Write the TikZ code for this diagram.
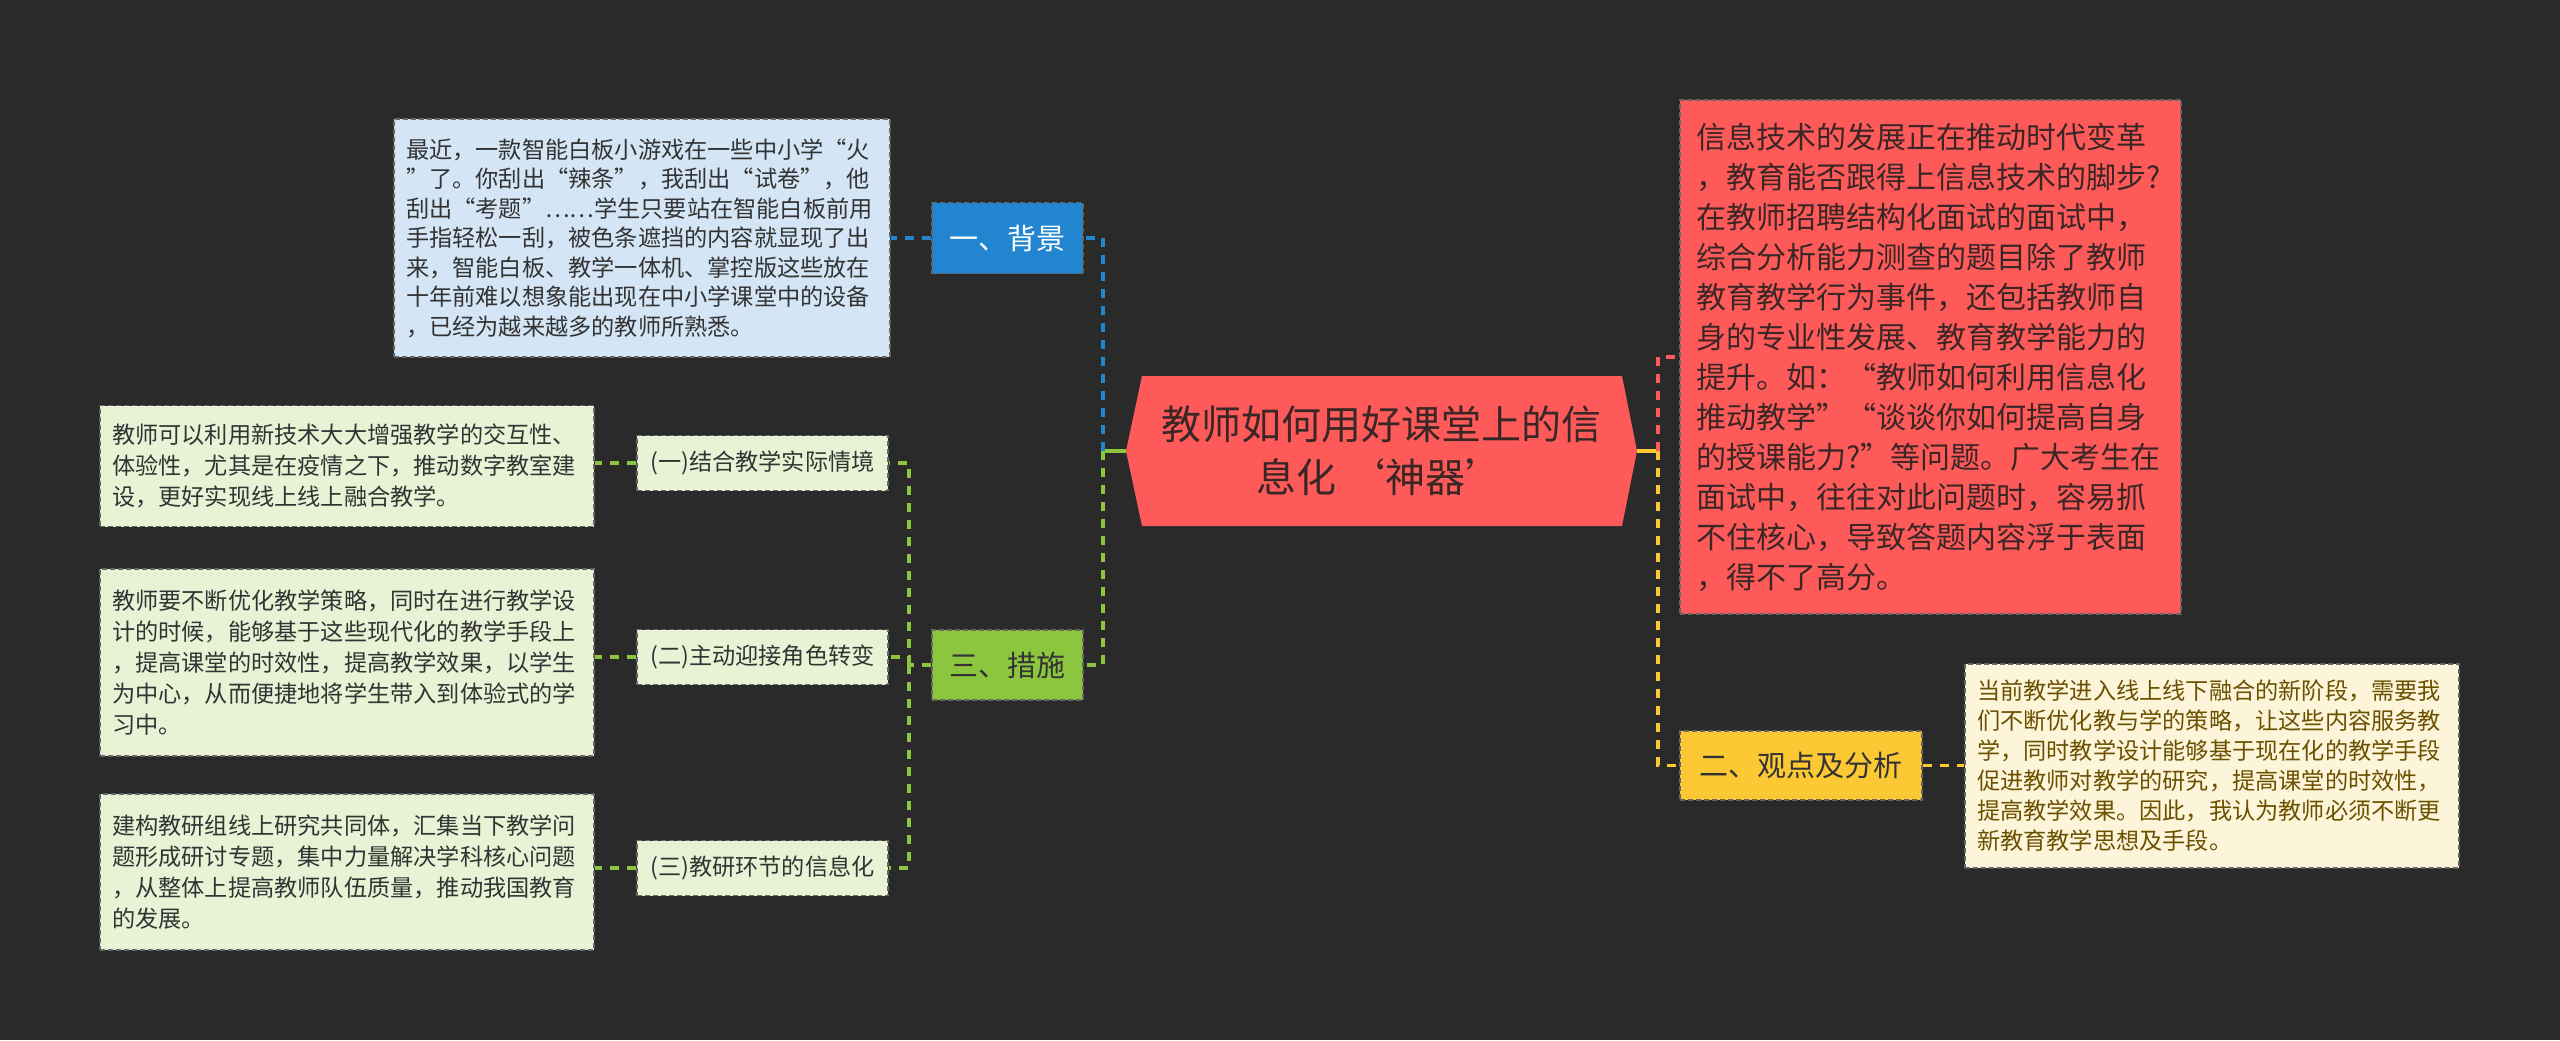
\documentclass[tikz,border=0pt]{standalone}
\usepackage{fontspec}
\setmainfont{Noto Sans CJK SC}
\newfontfamily\cjk{Noto Sans CJK SC}
\definecolor{bgcol}{HTML}{2A2A2A}
\definecolor{rootred}{HTML}{FF5A5A}
\definecolor{roottext}{HTML}{3B2626}
\definecolor{topblue}{HTML}{2185D0}
\definecolor{topgreen}{HTML}{8CC63F}
\definecolor{topyellow}{HTML}{FCC834}
\definecolor{lblue}{HTML}{D4E6F5}
\definecolor{lgreen}{HTML}{E8F3D6}
\definecolor{lyellow}{HTML}{FDF5DA}
\definecolor{darktext}{HTML}{333333}
\definecolor{browntext}{HTML}{6B5000}
\begin{document}
\begin{tikzpicture}[x=0.5pt,y=-0.5pt,
  boxline/.style={draw=black!60, line width=0.6pt, dash pattern=on 2.5pt off 1.5pt},
  leaf/.style={boxline, align=left, inner xsep=6pt, inner ysep=0pt, text=darktext,
     font=\cjk\fontsize{11.6pt}{15.5pt}\selectfont},
  topic/.style={boxline, align=center, inner sep=0pt, font=\cjk\fontsize{14.5pt}{17pt}\selectfont},
  sub/.style={boxline, fill=lgreen, align=center, inner sep=0pt, text=darktext,
     minimum width=125.5pt, minimum height=27.5pt, font=\cjk\fontsize{11.6pt}{14pt}\selectfont},
  conn/.style={line width=1.6pt, dash pattern=on 4.5pt off 4pt},
  stub/.style={line width=1.8pt}
]
\fill[bgcol] (0,0) rectangle (2560,1040);
\useasboundingbox (0,0) rectangle (2560,1040);

% central hexagon
\fill[rootred] (1126,451) -- (1142,376) -- (1622,376) -- (1637,451) -- (1622,526) -- (1142,526) -- cycle;
\coordinate (rootL) at (1126,451);
\coordinate (rootR) at (1637,451);
\node[align=center, text=roottext, font=\cjk\fontsize{20pt}{26.5pt}\selectfont] (root) at (1381,451)
  {教师如何用好课堂上的信\\息化 ‘神器’};

% topics
\node[topic, fill=topblue, text=white, minimum width=75.5pt, minimum height=35.5pt] (bg) at (1007.5,238) {一、背景};
\node[topic, fill=topgreen, text=darktext, minimum width=75.5pt, minimum height=35pt] (cs) at (1007.5,665) {三、措施};
\node[topic, fill=topyellow, text=darktext, minimum width=121pt, minimum height=34.5pt] (gd) at (1801,765.5) {二、观点及分析};

% background text
\node[leaf, fill=lblue, text width=236pt, minimum height=119pt,
  font=\cjk\fontsize{11.6pt}{14.75pt}\selectfont] (bgt) at (642,238)
{最近，一款智能白板小游戏在一些中小学“火\\
”了。你刮出“辣条”，我刮出“试卷”，他\\
刮出“考题”……学生只要站在智能白板前用\\
手指轻松一刮，被色条遮挡的内容就显现了出\\
来，智能白板、教学一体机、掌控版这些放在\\
十年前难以想象能出现在中小学课堂中的设备\\
，已经为越来越多的教师所熟悉。};

% measures
\node[sub] (m1) at (762.5,463) {(一)结合教学实际情境};
\node[sub] (m2) at (762.5,657) {(二)主动迎接角色转变};
\node[sub] (m3) at (762.5,868) {(三)教研环节的信息化};

\node[leaf, fill=lgreen, text width=235pt, minimum height=60.5pt] (t1) at (347,466)
{教师可以利用新技术大大增强教学的交互性、\\
体验性，尤其是在疫情之下，推动数字教室建\\
设，更好实现线上线上融合教学。};
\node[leaf, fill=lgreen, text width=235pt, minimum height=93.5pt] (t2) at (347,662.5)
{教师要不断优化教学策略，同时在进行教学设\\
计的时候，能够基于这些现代化的教学手段上\\
，提高课堂的时效性，提高教学效果，以学生\\
为中心，从而便捷地将学生带入到体验式的学\\
习中。};
\node[leaf, fill=lgreen, text width=235pt, minimum height=78pt] (t3) at (347,872)
{建构教研组线上研究共同体，汇集当下教学问\\
题形成研讨专题，集中力量解决学科核心问题\\
，从整体上提高教师队伍质量，推动我国教育\\
的发展。};

% right red text
\node[leaf, fill=rootred, text=roottext, inner xsep=8pt, text width=234.5pt, minimum height=257pt,
  font=\cjk\fontsize{15pt}{20pt}\selectfont] (rt) at (1930.5,357)
{信息技术的发展正在推动时代变革\\
，教育能否跟得上信息技术的脚步?\\
在教师招聘结构化面试的面试中，\\
综合分析能力测查的题目除了教师\\
教育教学行为事件，还包括教师自\\
身的专业性发展、教育教学能力的\\
提升。如：“教师如何利用信息化\\
推动教学”“谈谈你如何提高自身\\
的授课能力?”等问题。广大考生在\\
面试中，往往对此问题时，容易抓\\
不住核心，导致答题内容浮于表面\\
，得不了高分。};

% right yellow text
\node[leaf, fill=lyellow, text=browntext, text width=235pt, minimum height=102pt,
  font=\cjk\fontsize{11.6pt}{15pt}\selectfont] (yt) at (2212,766)
{当前教学进入线上线下融合的新阶段，需要我\\
们不断优化教与学的策略，让这些内容服务教\\
学，同时教学设计能够基于现在化的教学手段\\
促进教师对教学的研究，提高课堂的时效性，\\
提高教学效果。因此，我认为教师必须不断更\\
新教育教学思想及手段。};

% connectors left
\coordinate (hubL) at (1103,451);
\draw[stub, topgreen] (rootL) -- (hubL);
\draw[conn, topblue] (hubL) |- (bg.east);
\draw[conn, topgreen] (hubL) |- (cs.east);
\draw[conn, topblue] (bg.west) -- (bgt.east |- bg.west);
\coordinate (hubM) at (909,665);
\draw[conn, topgreen] (cs.west) -- (hubM);
\draw[conn, topgreen] (hubM) |- (m1.east);
\draw[conn, topgreen] (hubM) |- (m2.east);
\draw[conn, topgreen] (hubM) |- (m3.east);
\draw[conn, topgreen] (m1.west) -- (t1.east |- m1.west);
\draw[conn, topgreen] (m2.west) -- (t2.east |- m2.west);
\draw[conn, topgreen] (m3.west) -- (t3.east |- m3.west);

% connectors right
\coordinate (hubR) at (1658,451);
\draw[stub, topyellow] (rootR) -- (hubR);
\draw[conn, rootred] (hubR) |- (rt.west);
\draw[conn, topyellow] (hubR) |- (gd.west);
\draw[conn, topyellow] (gd.east) -- (yt.west |- gd.east);
\end{tikzpicture}
\end{document}
